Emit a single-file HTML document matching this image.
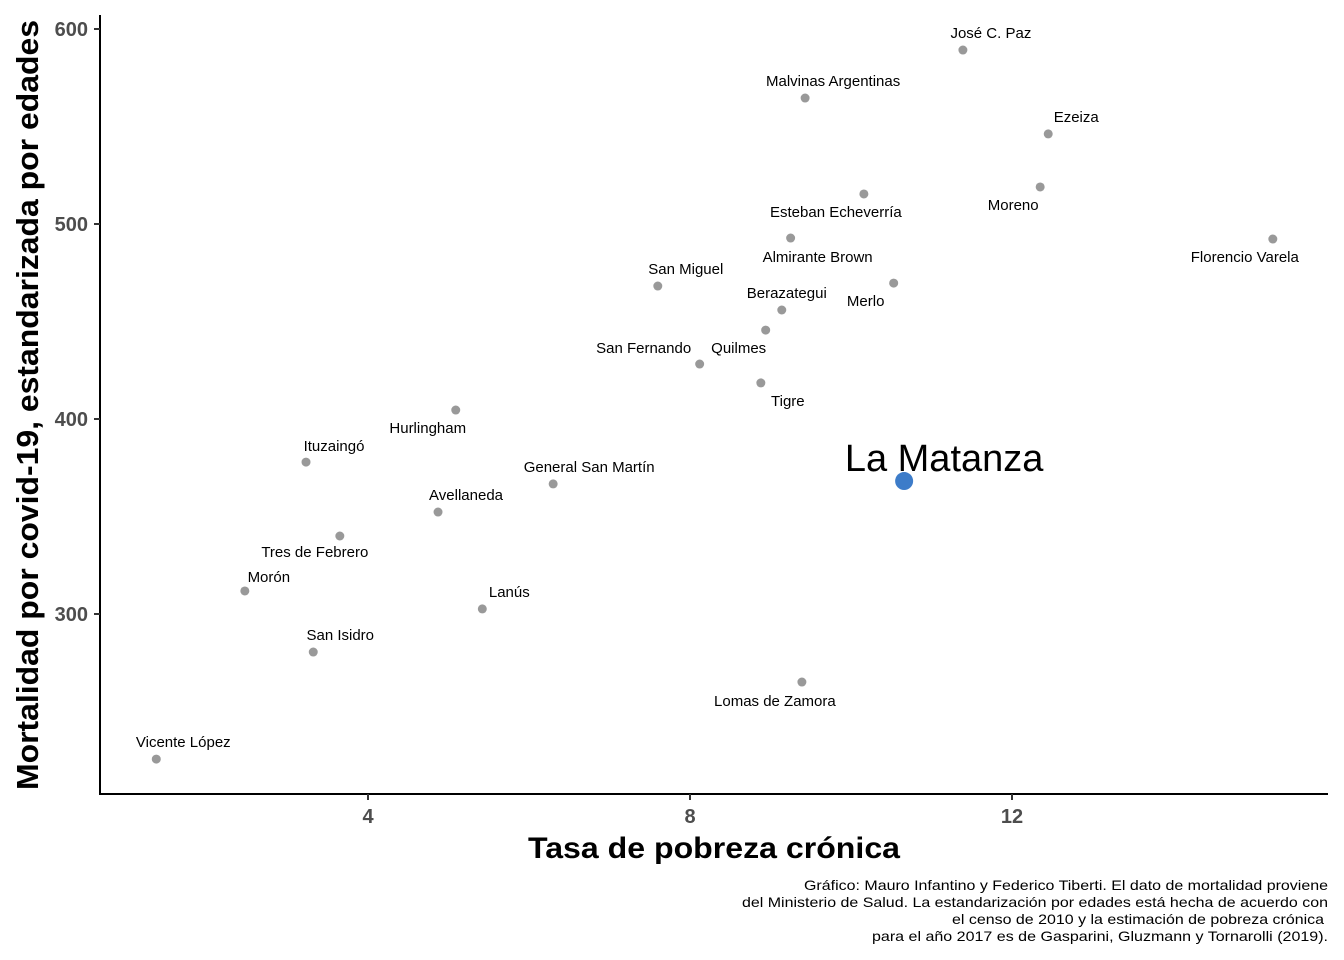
<!DOCTYPE html>
<html><head><meta charset="utf-8"><style>
html,body{margin:0;padding:0;background:#fff;}
svg{display:block;font-family:"Liberation Sans",Arial,sans-serif;}
</style></head><body>
<svg id="chart" width="1344" height="960" viewBox="0 0 1344 960" xmlns="http://www.w3.org/2000/svg">
<g id="axes"></g><g id="marks"></g>
<text x="714" y="858" text-anchor="middle" font-size="30" font-weight="bold" textLength="372" lengthAdjust="spacingAndGlyphs">Tasa de pobreza crónica</text>
<text transform="translate(38,405) rotate(-90)" text-anchor="middle" font-size="31" font-weight="bold" textLength="770" lengthAdjust="spacingAndGlyphs">Mortalidad por covid-19, estandarizada por edades</text>
<g font-size="14" text-anchor="end">
<text x="1328" y="890" textLength="524" lengthAdjust="spacingAndGlyphs">Gráfico: Mauro Infantino y Federico Tiberti. El dato de mortalidad proviene</text>
<text x="1328" y="907" textLength="586" lengthAdjust="spacingAndGlyphs">del Ministerio de Salud. La estandarización por edades está hecha de acuerdo con</text>
<text x="1324" y="924" textLength="372" lengthAdjust="spacingAndGlyphs">el censo de 2010 y la estimación de pobreza crónica</text>
<text x="1328" y="941" textLength="456" lengthAdjust="spacingAndGlyphs">para el año 2017 es de Gasparini, Gluzmann y Tornarolli (2019).</text>
</g>
</svg>
<script>
const names = ["Vicente López","Morón","San Isidro","Ituzaingó","Tres de Febrero","Hurlingham","Avellaneda","Lanús","General San Martín","San Miguel","San Fernando","Tigre","Quilmes","Berazategui","Almirante Brown","Lomas de Zamora","Malvinas Argentinas","Esteban Echeverría","Merlo","La Matanza","José C. Paz","Moreno","Ezeiza","Florencio Varela"];
const pobreza = [1.37,2.47,3.32,3.23,3.65,5.09,4.87,5.42,6.30,7.60,8.12,8.88,8.94,9.14,9.25,9.39,9.43,10.16,10.53,10.66,11.39,12.35,12.45,15.24];
const mortalidad = [225.6,311.8,280.5,377.9,340,404.6,352.3,302.6,366.7,468.2,428.2,418.5,445.6,455.9,492.8,265.1,564.6,515.4,469.7,368.2,589.2,519,546.2,492.3];
const xTicks = [4,8,12];
const yTicks = [300,400,500,600];
const highlight = "La Matanza";
// label placement offsets (pixels, styling only)
const labelDx = [27,24,27,28,-25,-28,28,27,36,28,-56,27,-27,5,27,-27,28,-28,-28,40,28,-27,28,-28];
const labelDy = [-17,-14,-17,-16,16,18,-17,-17,-17,-17,-16,18,18,-17,19,19,-17,18,18,-23,-17,18,-17,18];

const X = v => 46 + v*80.5;
const Y = v => 614 - (v-300)*1.95;
const NS="http://www.w3.org/2000/svg";
function mk(tag, attrs, parent){const e=document.createElementNS(NS,tag);for(const k in attrs)e.setAttribute(k,attrs[k]);parent.appendChild(e);return e;}
const axes=document.getElementById('axes'), marks=document.getElementById('marks');
let l=mk('line',{x1:100,y1:15,x2:100,y2:795,stroke:'#000','stroke-width':2},axes);


l=mk('line',{x1:99,y1:794,x2:1328,y2:794,stroke:'#000','stroke-width':2},axes);


xTicks.forEach(t=>{
  const tk=mk('line',{x1:X(t),y1:794,x2:X(t),y2:800,stroke:'#333','stroke-width':2},axes);
  
  
  const tx=mk('text',{x:X(t),y:823,'text-anchor':'middle','font-size':20,'font-weight':'bold',fill:'#4d4d4d'},axes);
  tx.textContent=t;
  
  
});
yTicks.forEach(t=>{
  const tk=mk('line',{x1:94,y1:Y(t),x2:100,y2:Y(t),stroke:'#333','stroke-width':2},axes);
  
  
  const tx=mk('text',{x:88,y:Y(t)+7,'text-anchor':'end','font-size':20,'font-weight':'bold',fill:'#4d4d4d'},axes);
  tx.textContent=t;
  
  
});
names.forEach((n,i)=>{
  const hi = n===highlight;
  const cx=X(pobreza[i]), cy=Y(mortalidad[i]);
  const c=mk('circle',{cx:cx,cy:cy,r:hi?9:4.5,fill:hi?'#3d7cc9':'#999'},marks);
  
  
  const t=mk('text',{x:cx+labelDx[i],y:cy+labelDy[i]+(hi?13:5),'text-anchor':'middle','font-size':hi?38:15,fill:'#000'},marks);
  t.textContent=n;
  
  
});
</script>
</body></html>
